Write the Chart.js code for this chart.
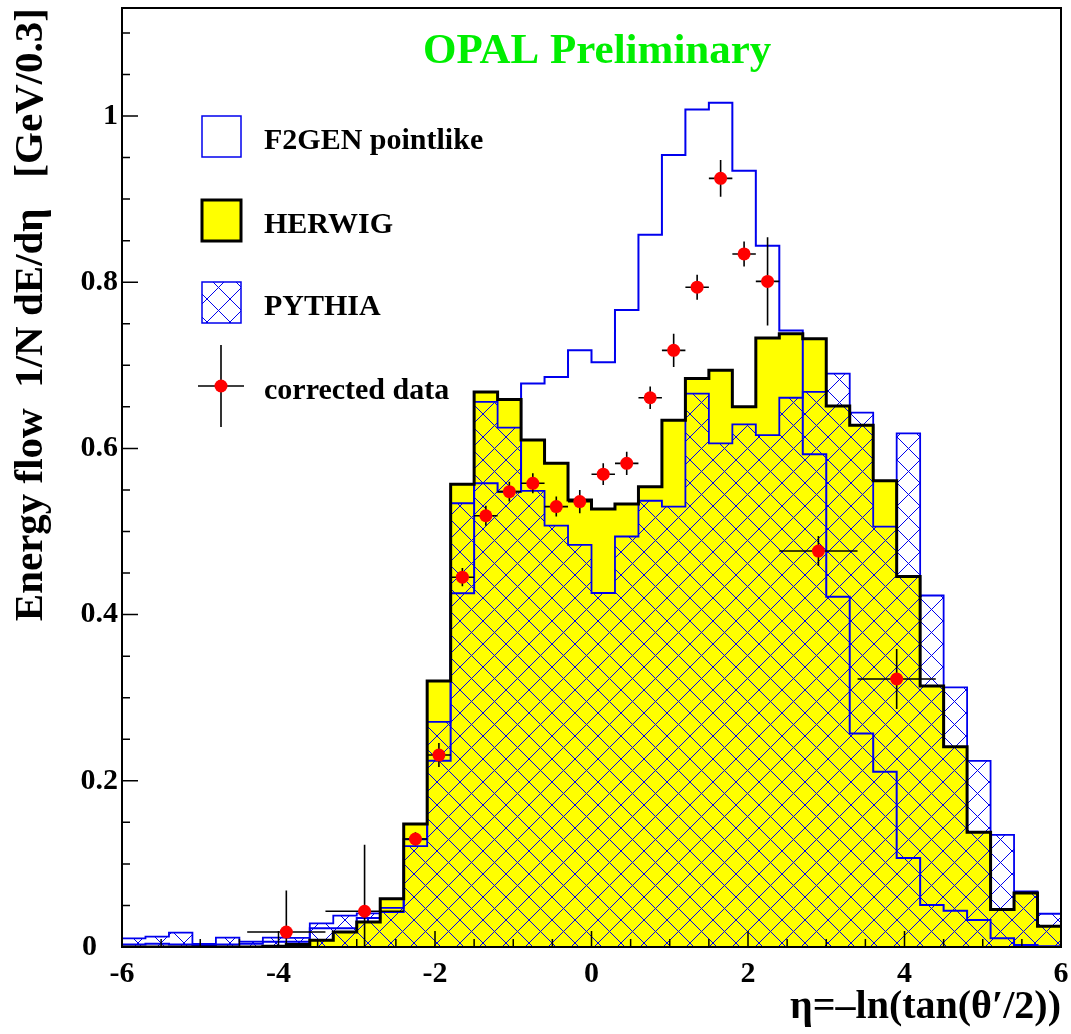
<!DOCTYPE html>
<html>
<head>
<meta charset="utf-8">
<script src="https://cdn.jsdelivr.net/npm/chart.js@4.4.1/dist/chart.umd.min.js"></script>
<style>html,body{margin:0;padding:0;background:#ffffff;}canvas{display:block;}</style>
</head>
<body>
<canvas id="c" width="1071" height="1034"></canvas>
<script>
// ---- binning (40 bins of width 0.3 from -6 to 6) ----
const binStart = -6;
const binWidth = 0.3;

// ---- histogram contents, one value per bin ----
const f2gen = [0.003, 0.004, 0.003, 0.002, 0.003, 0.004, 0.0064, 0.0064, 0.0225, 0.0225,
               0.035, 0.042, 0.1296, 0.224, 0.4256, 0.558, 0.548, 0.678, 0.686, 0.718,
               0.7036, 0.7665, 0.857, 0.953, 1.008, 1.016, 0.934, 0.844, 0.742, 0.593,
               0.4216, 0.257, 0.211, 0.107, 0.0505, 0.0437, 0.0325, 0.0104, 0.0024, 0.001];
const herwig = [0, 0, 0, 0, 0, 0, 0.001, 0.003, 0.008, 0.018,
                0.030, 0.058, 0.148, 0.320, 0.557, 0.668, 0.659, 0.610, 0.582, 0.538,
                0.527, 0.533, 0.554, 0.634, 0.684, 0.694, 0.650, 0.733, 0.738, 0.732,
                0.651, 0.628, 0.561, 0.446, 0.314, 0.241, 0.138, 0.045, 0.065, 0.025];
const pythia = [0.0104, 0.0124, 0.0172, 0.0036, 0.0112, 0.0064, 0.0112, 0.011, 0.0285, 0.0377,
                0.0405, 0.047, 0.1215, 0.271, 0.534, 0.656, 0.625, 0.549, 0.507, 0.484,
                0.426, 0.494, 0.537, 0.530, 0.666, 0.606, 0.629, 0.616, 0.661, 0.668,
                0.690, 0.643, 0.506, 0.618, 0.423, 0.3125, 0.224, 0.135, 0.067, 0.040];

// ---- corrected data ----
const dataX = [-3.9, -2.9, -2.25, -1.95, -1.65, -1.35, -1.05, -0.75, -0.45, -0.15,
               0.15, 0.45, 0.75, 1.05, 1.35, 1.65, 1.95, 2.25, 2.9, 3.9];
const dataY = [0.018, 0.043, 0.130, 0.231, 0.445, 0.519, 0.548, 0.558, 0.530, 0.536,
               0.569, 0.582, 0.661, 0.718, 0.794, 0.925, 0.834, 0.801, 0.4765, 0.3225];
const dataXErr = [0.5, 0.5, 0.15, 0.15, 0.15, 0.15, 0.15, 0.15, 0.15, 0.15,
                  0.15, 0.15, 0.15, 0.15, 0.15, 0.15, 0.15, 0.15, 0.5, 0.5];
const dataYErrUp = [0.050, 0.080, 0.008, 0.0145, 0.011, 0.012, 0.012, 0.012, 0.012, 0.014,
                    0.013, 0.014, 0.0135, 0.020, 0.015, 0.022, 0.015, 0.053, 0.018, 0.036];
const dataYErrDown = [0.018, 0.043, 0.008, 0.0145, 0.011, 0.012, 0.012, 0.012, 0.012, 0.014,
                      0.013, 0.014, 0.0135, 0.020, 0.015, 0.022, 0.015, 0.053, 0.018, 0.036];

// ---- axes ----
const xTicks = [-6, -4, -2, 0, 2, 4, 6];
const xTickLabels = ['-6', '-4', '-2', '0', '2', '4', '6'];
const yTicks = [0, 0.2, 0.4, 0.6, 0.8, 1];
const yTickLabels = ['0', '0.2', '0.4', '0.6', '0.8', '1'];
const xMinorStep = 0.5;
const yMinorStep = 0.05;

const BLUE = '#0000ee';
const SERIF = '"Liberation Serif", "Times New Roman", serif';

function histPoints(vals) {
  const pts = vals.map((v, i) => ({x: binStart + i * binWidth, y: v}));
  pts.push({x: binStart + vals.length * binWidth, y: vals[vals.length - 1]});
  return pts;
}

function makeHatch() {
  const s = 23;
  const c = document.createElement('canvas');
  c.width = s; c.height = s;
  const g = c.getContext('2d');
  g.strokeStyle = BLUE;
  g.lineWidth = 1;
  g.beginPath();
  for (const dx of [-s, 0, s]) {
    g.moveTo(dx, 0); g.lineTo(dx + s, s);
    g.moveTo(dx, s); g.lineTo(dx + s, 0);
  }
  g.stroke();
  return g.createPattern(c, 'repeat');
}
const hatch = makeHatch();

const errorBars = {
  id: 'errorBars',
  beforeDatasetDraw(chart, args) {
    if (args.index !== 4) return;
    const xs = chart.scales.x, ys = chart.scales.y, ctx = chart.ctx;
    ctx.save();
    ctx.strokeStyle = '#000000';
    ctx.lineWidth = 1.6;
    ctx.beginPath();
    for (let i = 0; i < dataX.length; i++) {
      const px = xs.getPixelForValue(dataX[i]);
      const py = ys.getPixelForValue(dataY[i]);
      ctx.moveTo(xs.getPixelForValue(dataX[i] - dataXErr[i]), py);
      ctx.lineTo(xs.getPixelForValue(dataX[i] + dataXErr[i]), py);
      ctx.moveTo(px, ys.getPixelForValue(dataY[i] - dataYErrDown[i]));
      ctx.lineTo(px, ys.getPixelForValue(dataY[i] + dataYErrUp[i]));
    }
    ctx.stroke();
    ctx.restore();
  }
};

const frameAndDecor = {
  id: 'frameAndDecor',
  afterDraw(chart) {
    const {ctx, chartArea: a} = chart;
    const xs = chart.scales.x, ys = chart.scales.y;
    ctx.save();
    // ticks (inside)
    ctx.strokeStyle = '#000';
    ctx.lineWidth = 1.5;
    ctx.beginPath();
    const nx = Math.round((xs.max - xs.min) / xMinorStep);
    for (let i = 0; i <= nx; i++) {
      const v = xs.min + i * xMinorStep;
      const major = xTicks.some(t => Math.abs(t - v) < 1e-6);
      const px = xs.getPixelForValue(v);
      ctx.moveTo(px, a.bottom);
      ctx.lineTo(px, a.bottom - (major ? 16 : 8));
    }
    const ny = Math.floor((ys.max - ys.min) / yMinorStep + 1e-6);
    for (let i = 0; i <= ny; i++) {
      const v = ys.min + i * yMinorStep;
      const major = yTicks.some(t => Math.abs(t - v) < 1e-6);
      const py = ys.getPixelForValue(v);
      ctx.moveTo(a.left, py);
      ctx.lineTo(a.left + (major ? 16 : 8), py);
    }
    ctx.stroke();
    // frame
    ctx.lineWidth = 2;
    ctx.strokeRect(a.left, a.top, a.right - a.left, a.bottom - a.top);

    // title
    ctx.fillStyle = '#00ee00';
    ctx.font = 'bold 43px ' + SERIF;
    ctx.textAlign = 'left';
    ctx.textBaseline = 'alphabetic';
    ctx.fillText('OPAL Preliminary', 423, 63);

    // legend
    const bx = 202, bw = 39, bh = 41;
    ctx.fillStyle = '#ffffff';
    ctx.fillRect(bx, 116, bw, bh);
    ctx.strokeStyle = BLUE; ctx.lineWidth = 1.5;
    ctx.strokeRect(bx, 116, bw, bh);

    ctx.fillStyle = '#ffff00';
    ctx.fillRect(bx, 200, bw, bh);
    ctx.strokeStyle = '#000'; ctx.lineWidth = 3;
    ctx.strokeRect(bx, 200, bw, bh);

    ctx.fillStyle = hatch;
    ctx.fillRect(bx, 282, bw, bh);
    ctx.strokeStyle = BLUE; ctx.lineWidth = 1.5;
    ctx.strokeRect(bx, 282, bw, bh);

    ctx.strokeStyle = '#000'; ctx.lineWidth = 1.6;
    ctx.beginPath();
    ctx.moveTo(221, 345); ctx.lineTo(221, 427);
    ctx.moveTo(198, 386); ctx.lineTo(244, 386);
    ctx.stroke();
    ctx.fillStyle = '#ff0000';
    ctx.beginPath(); ctx.arc(221, 386, 6.5, 0, Math.PI * 2); ctx.fill();

    ctx.fillStyle = '#000';
    ctx.font = 'bold 30px ' + SERIF;
    ctx.fillText('F2GEN pointlike', 264, 149);
    ctx.fillText('HERWIG', 264, 233);
    ctx.fillText('PYTHIA', 264, 315);
    ctx.fillText('corrected data', 264, 399);
    ctx.restore();
  }
};

const lineBase = {pointRadius: 0, pointHoverRadius: 0, stepped: true, tension: 0};

new Chart(document.getElementById('c'), {
  type: 'line',
  data: {
    datasets: [
      Object.assign({label: 'HERWIG fill', data: histPoints(herwig), fill: 'origin',
        backgroundColor: '#ffff00', borderWidth: 0, borderColor: 'rgba(0,0,0,0)', order: 6}, lineBase),
      Object.assign({label: 'PYTHIA', data: histPoints(pythia), fill: 'origin',
        backgroundColor: hatch, borderColor: BLUE, borderWidth: 1.8, order: 5}, lineBase),
      Object.assign({label: 'F2GEN pointlike', data: histPoints(f2gen), fill: false,
        borderColor: BLUE, borderWidth: 2, order: 4}, lineBase),
      Object.assign({label: 'HERWIG', data: histPoints(herwig), fill: false,
        borderColor: '#000000', borderWidth: 3, order: 3}, lineBase),
      {label: 'corrected data', data: dataX.map((x, i) => ({x: x, y: dataY[i]})),
        showLine: false, pointRadius: 6.5, pointHoverRadius: 6.5, pointStyle: 'circle',
        pointBackgroundColor: '#ff0000', pointBorderColor: '#ff0000', pointBorderWidth: 0, order: 1}
    ]
  },
  options: {
    responsive: false,
    devicePixelRatio: 1,
    animation: false,
    events: [],
    layout: {padding: {top: 8, right: 10, left: 0, bottom: 0}},
    plugins: {legend: {display: false}, tooltip: {enabled: false}, title: {display: false}},
    scales: {
      x: {
        type: 'linear', min: -6, max: 6,
        grid: {display: false, drawTicks: false},
        border: {display: false},
        afterBuildTicks: (s) => { s.ticks = xTicks.map(v => ({value: v})); },
        afterFit: (s) => { s.height = 87; s.paddingLeft = 0; s.paddingRight = 0; s.paddingTop = 0; s.paddingBottom = 0; },
        ticks: {
          color: '#000', padding: 9, maxRotation: 0, autoSkip: false,
          font: {family: SERIF, weight: 'bold', size: 30},
          callback: (v, i) => xTickLabels[i]
        },
        title: {display: true, text: 'η=–ln(tan(θ′/2))', align: 'end', color: '#000',
          font: {family: SERIF, weight: 'bold', size: 40}, padding: {top: 0, bottom: 2}}
      },
      y: {
        type: 'linear', min: 0, max: 1.13,
        grid: {display: false, drawTicks: false},
        border: {display: false},
        afterBuildTicks: (s) => { s.ticks = yTicks.map(v => ({value: v})); },
        afterFit: (s) => { s.width = 122; s.paddingLeft = 0; s.paddingRight = 0; s.paddingTop = 0; s.paddingBottom = 0; },
        ticks: {
          color: '#000', padding: 4, autoSkip: false,
          font: {family: SERIF, weight: 'bold', size: 30},
          callback: (v, i) => yTickLabels[i] === '0' ? '0\u2002\u2009' : yTickLabels[i]
        },
        title: {display: true, text: 'Energy flow  1/N dE/dη   [GeV/0.3]', align: 'end', color: '#000',
          font: {family: SERIF, weight: 'bold', size: 41}, padding: {top: 7, bottom: 0}}
      }
    }
  },
  plugins: [errorBars, frameAndDecor]
});
</script>
</body>
</html>
